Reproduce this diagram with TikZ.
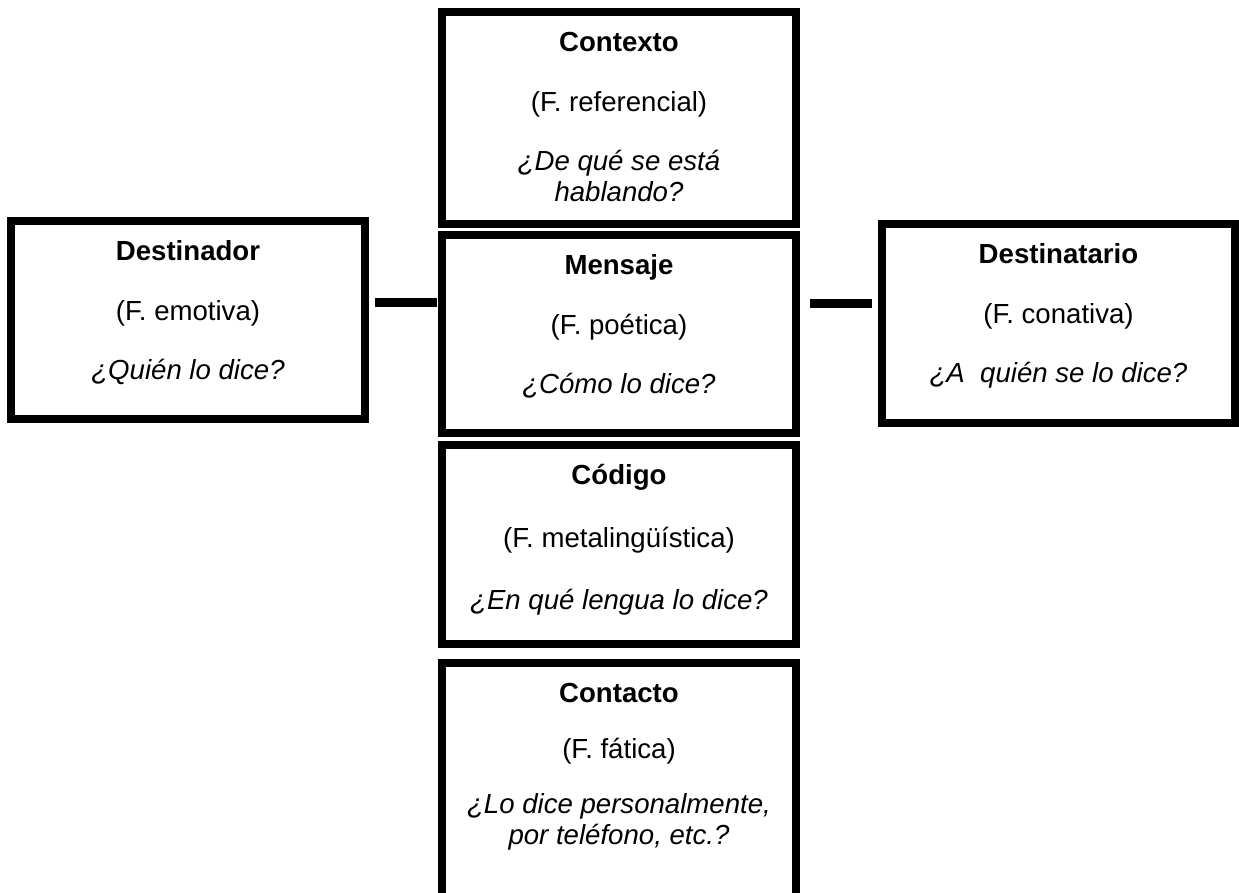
\documentclass[tikz,border=0pt]{standalone}
\usepackage{fontspec}
\setmainfont{Liberation Sans}
\usepackage{tikz}
\usetikzlibrary{positioning}

\newcommand{\boxtitle}[1]{\rule{0pt}{13pt}\textbf{#1}}

\begin{document}
\begin{tikzpicture}[x=0.5pt, y=-0.5pt,
    funcbox/.style={draw, line width=4pt, minimum width=177pt, inner sep=0pt},
    functext/.style={anchor=north, align=center, inner sep=0pt,
                     font=\fontsize{13.8}{15.8}\selectfont},
    link/.style={line width=4.5pt}]
  \useasboundingbox (0,0) rectangle (1239,893);

  \node[funcbox, minimum height=106pt] (contexto) at (619,118) {};
  \node[funcbox, minimum height=99pt] (mensaje) at (619,334) {};
  \node[funcbox, minimum height=99.5pt] (codigo) at (619,544.5) {};
  \node[funcbox, minimum height=121pt] (contacto) at (619,784) {};
  \node[funcbox, minimum height=99pt] (destinador) at (188,320) {};
  \node[funcbox, minimum width=176.5pt, minimum height=99.5pt] (destinatario) at (1058.5,323.5) {};

  \node[functext] (contexto-txt) at ([yshift=-8.75pt]contexto.north)
    {\boxtitle{Contexto}\\[13.8pt] (F. referencial)\\[13.8pt]
     \textit{¿De qué se está}\\ \textit{hablando?}};
  \node[functext] (mensaje-txt) at ([yshift=-8.75pt]mensaje.north)
    {\boxtitle{Mensaje}\\[13.8pt] (F. poética)\\[13.8pt] \textit{¿Cómo lo dice?}};
  \node[functext] (codigo-txt) at ([yshift=-8.75pt]codigo.north)
    {\boxtitle{Código}\\[15.5pt] (F. metalingüística)\\[15pt] \textit{¿En qué lengua lo dice?}};
  \node[functext] (contacto-txt) at ([yshift=-8.75pt]contacto.north)
    {\boxtitle{Contacto}\\[12pt] (F. fática)\\[11.5pt]
     \textit{¿Lo dice personalmente,}\\ \textit{por teléfono, etc.?}};
  \node[functext] (destinador-txt) at ([yshift=-8.75pt]destinador.north)
    {\boxtitle{Destinador}\\[13.8pt] (F. emotiva)\\[13.8pt] \textit{¿Quién lo dice?}};
  \node[functext] (destinatario-txt) at ([yshift=-8.75pt]destinatario.north)
    {\boxtitle{Destinatario}\\[13.8pt] (F. conativa)\\[13.8pt] \textit{¿A~ quién se lo dice?}};

  \draw[link, shorten <=3pt, shorten >=0.5pt]
    (destinador.east |- 0,302.5) -- (mensaje.west |- 0,302.5);
  \draw[link, shorten <=5pt, shorten >=3pt]
    (mensaje.east |- 0,303.5) -- (destinatario.west |- 0,303.5);
\end{tikzpicture}
\end{document}
